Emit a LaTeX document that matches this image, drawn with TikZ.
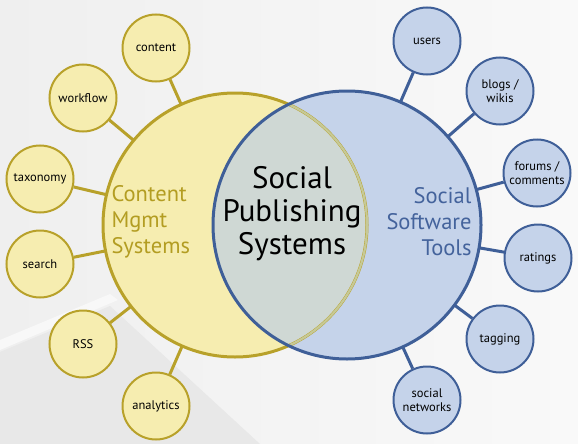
\documentclass[tikz,border=0pt]{standalone}
\usepackage{fontspec}
\setmainfont{PT Sans}
\definecolor{goldline}{HTML}{B8A12A}
\definecolor{goldfill}{HTML}{F6EDB0}
\definecolor{goldtext}{HTML}{B39D22}
\definecolor{blueline}{HTML}{3F5F98}
\definecolor{bluefill}{HTML}{C5D3EA}
\definecolor{bluetext}{HTML}{44639C}
\definecolor{lensfill}{HTML}{CFD8D4}
\definecolor{faintline}{HTML}{C6C996}
\definecolor{bgleft}{HTML}{EFEFEF}
\definecolor{bgright}{HTML}{F9F9F9}
\definecolor{bgdark}{HTML}{E8E8E8}
\definecolor{bgstreak}{HTML}{F8F8F8}
\begin{document}
\begin{tikzpicture}[x=1pt,y=-1pt,
  cmsitem/.style={circle, draw=goldline, fill=goldfill, line width=2pt, minimum size=67pt, inner sep=0pt, align=center, font=\fontsize{12.5}{14}\selectfont},
  sstitem/.style={circle, draw=blueline, fill=bluefill, line width=2pt, minimum size=67pt, inner sep=0pt, align=center, font=\fontsize{12.5}{14}\selectfont},
  cmslink/.style={draw=goldline, line width=3pt},
  sstlink/.style={draw=blueline, line width=3pt},
  bigcircle/.style={circle, inner sep=0pt}]
\useasboundingbox (0,0) rectangle (578,444);
\shade[left color=bgleft, right color=bgright] (0,0) rectangle (578,444);
\fill[bgdark] (0,444) -- (0,352) -- (110,306) -- (260,444) -- cycle;
\fill[bgstreak] (0,340) -- (110,294) -- (118,300) -- (0,350) -- cycle;
% big circles (named)
\node[bigcircle, minimum size=264pt] (cms) at (235,225) {};
\node[bigcircle, minimum size=268pt] (sst) at (347,225) {};
% satellites
\node[cmsitem] (content) at (156,48) {content};
\node[cmsitem] (workflow) at (83,98) {workflow};
\node[cmsitem] (taxonomy) at (40,179) {taxonomy};
\node[cmsitem] (search) at (40,264) {search};
\node[cmsitem] (rss) at (83,344) {RSS};
\node[cmsitem] (analytics) at (156,406) {analytics};
\node[sstitem] (users) at (427,41) {users};
\node[sstitem] (blogs) at (500,91) {blogs /\\wikis};
\node[sstitem] (forums) at (537,173) {forums /\\comments};
\node[sstitem] (ratings) at (538,258) {ratings};
\node[sstitem] (tagging) at (500,339) {tagging};
\node[sstitem] (socialnet) at (427,400) {social\\networks};
% connectors
\foreach \s in {content,workflow,taxonomy,search,rss,analytics}
  \draw[cmslink] (\s) -- (cms);
\foreach \s in {users,blogs,forums,ratings,tagging,socialnet}
  \draw[sstlink] (\s) -- (sst);
% fills
\fill[goldfill] (cms.center) circle (132pt);
\fill[bluefill] (sst.center) circle (134pt);
\begin{scope}
  \clip (cms.center) circle (132pt);
  \fill[lensfill] (sst.center) circle (134pt);
\end{scope}
\draw[goldline, line width=3pt] (cms.center) circle (132pt);
\begin{scope}
  \clip (sst.center) circle (134pt);
  \draw[faintline, line width=2.2pt] (cms.center) circle (132pt);
\end{scope}
\draw[blueline, line width=3pt] (sst.center) circle (134pt);
% texts
\node[align=center, font=\fontsize{31}{33}\selectfont, text=black] (spsys) at (292,214) {Social\\Publishing\\Systems};
\node[align=left, anchor=west, font=\fontsize{22.5}{26}\selectfont, text=goldtext] (cmslabel) at (108,222) {Content\\Mgmt\\Systems};
\node[align=right, anchor=east, font=\fontsize{22.5}{26}\selectfont, text=bluetext] (sstlabel) at (475,222) {Social\\Software\\Tools};
\end{tikzpicture}
\end{document}
